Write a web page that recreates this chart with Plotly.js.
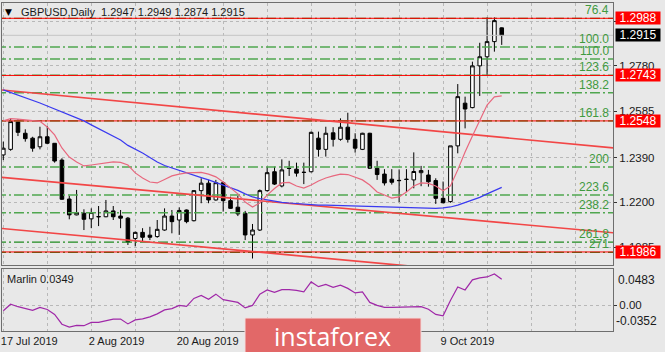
<!DOCTYPE html>
<html>
<head>
<meta charset="utf-8">
<script src="https://cdn.plot.ly/plotly-3.0.1.min.js"></script>
<style>html,body{margin:0;padding:0;background:#e8e8e8;}#chart{width:665px;height:352px;}</style>
</head>
<body>
<div id="chart"></div>
<script>
// ---------- DATA ----------
const dates = ["17 Jul 2019","18 Jul 2019","19 Jul 2019","22 Jul 2019","23 Jul 2019","24 Jul 2019","25 Jul 2019","26 Jul 2019","29 Jul 2019","30 Jul 2019","31 Jul 2019",
"1 Aug 2019","2 Aug 2019","5 Aug 2019","6 Aug 2019","7 Aug 2019","8 Aug 2019","9 Aug 2019","12 Aug 2019","13 Aug 2019","14 Aug 2019","15 Aug 2019","16 Aug 2019","19 Aug 2019","20 Aug 2019","21 Aug 2019","22 Aug 2019","23 Aug 2019","26 Aug 2019","27 Aug 2019","28 Aug 2019","29 Aug 2019","30 Aug 2019",
"2 Sep 2019","3 Sep 2019","4 Sep 2019","5 Sep 2019","6 Sep 2019","9 Sep 2019","10 Sep 2019","11 Sep 2019","12 Sep 2019","13 Sep 2019","16 Sep 2019","17 Sep 2019","18 Sep 2019","19 Sep 2019","20 Sep 2019","23 Sep 2019","24 Sep 2019","25 Sep 2019","26 Sep 2019","27 Sep 2019","30 Sep 2019",
"1 Oct 2019","2 Oct 2019","3 Oct 2019","4 Oct 2019","7 Oct 2019","8 Oct 2019","9 Oct 2019","10 Oct 2019","11 Oct 2019","14 Oct 2019","15 Oct 2019","16 Oct 2019","17 Oct 2019","18 Oct 2019","21 Oct 2019"];
// date labels visible below the indicator panel (the others are hidden by the logo)
const labelDates = ["17 Jul 2019","2 Aug 2019","20 Aug 2019","9 Oct 2019"];

const open  = [1.2402,1.2426,1.2545,1.2495,1.2474,1.2437,1.2480,1.2452,1.2380,1.2213,1.2145,1.2152,1.2128,1.2138,1.2137,1.2162,1.2140,1.2131,1.2044,1.2070,1.2058,1.2052,1.2080,1.2140,1.2123,1.2166,1.2120,1.2249,1.2281,1.2209,1.2283,1.2206,1.2178,1.2152,1.2059,1.2080,1.2249,1.2330,1.2269,1.2345,1.2341,1.2328,1.2330,1.2474,1.2426,1.2497,1.2469,1.2521,1.2469,1.2426,1.2495,1.2345,1.2320,1.2298,1.2293,1.2298,1.2295,1.2326,1.2316,1.2292,1.2216,1.2202,1.2441,1.2624,1.2605,1.2784,1.2823,1.2888,1.2947];
const high  = [1.2459,1.2559,1.2555,1.2512,1.2480,1.2523,1.2526,1.2453,1.2388,1.2227,1.2252,1.2169,1.2173,1.2183,1.2209,1.2183,1.2166,1.2136,1.2073,1.2088,1.2094,1.2123,1.2173,1.2166,1.2177,1.2168,1.2250,1.2302,1.2295,1.2295,1.2288,1.2223,1.2226,1.2162,1.2106,1.2254,1.2352,1.2352,1.2383,1.2377,1.2369,1.2369,1.2502,1.2502,1.2523,1.2521,1.2559,1.2583,1.2495,1.2497,1.2497,1.2377,1.2341,1.2341,1.2340,1.2341,1.2413,1.2355,1.2338,1.2302,1.2288,1.2441,1.2706,1.2652,1.2802,1.2883,1.2992,1.2992,1.2949];
const low   = [1.2380,1.2420,1.2483,1.2459,1.2416,1.2426,1.2448,1.2369,1.2209,1.2126,1.2143,1.2080,1.2088,1.2097,1.2135,1.2123,1.2088,1.2016,1.2010,1.2030,1.2037,1.2047,1.2077,1.2066,1.2059,1.2109,1.2117,1.2195,1.2195,1.2206,1.2159,1.2171,1.2140,1.2037,1.1958,1.2076,1.2245,1.2273,1.2263,1.2312,1.2309,1.2277,1.2327,1.2395,1.2395,1.2438,1.2463,1.2455,1.2412,1.2423,1.2342,1.2295,1.2271,1.2275,1.2200,1.2243,1.2259,1.2268,1.2266,1.2192,1.2195,1.2197,1.2409,1.2516,1.2602,1.2655,1.2745,1.2845,1.2874];
const close = [1.2431,1.2545,1.2499,1.2472,1.2431,1.2480,1.2452,1.2376,1.2212,1.2145,1.2155,1.2126,1.2155,1.2137,1.2162,1.2137,1.2131,1.2029,1.2070,1.2049,1.2049,1.2083,1.2140,1.2116,1.2164,1.2116,1.2249,1.2281,1.2209,1.2283,1.2206,1.2173,1.2149,1.2059,1.2080,1.2249,1.2326,1.2277,1.2338,1.2344,1.2324,1.2327,1.2499,1.2426,1.2495,1.2469,1.2521,1.2469,1.2431,1.2495,1.2345,1.2318,1.2282,1.2285,1.2292,1.2297,1.2331,1.2335,1.2287,1.2216,1.2197,1.2441,1.2652,1.2599,1.2784,1.2823,1.2888,1.2978,1.2915];

const maFast = [1.2548,1.2558,1.2556,1.2552,1.2548,1.2546,1.2522,1.2488,1.2432,1.2393,1.2372,1.2355,1.2359,1.2363,1.2368,1.2372,1.2370,1.2359,1.2325,1.2303,1.2286,1.2282,1.2297,1.2312,1.2320,1.2325,1.2326,1.2327,1.2320,1.2308,1.2286,1.2260,1.2235,1.2200,1.2179,1.2196,1.2230,1.2258,1.2282,1.2284,1.2269,1.2260,1.2273,1.2290,1.2303,1.2312,1.2320,1.2318,1.2308,1.2295,1.2273,1.2243,1.2230,1.2217,1.2222,1.2243,1.2269,1.2282,1.2280,1.2269,1.2248,1.2269,1.2338,1.2415,1.2483,1.2552,1.2616,1.2651,1.2655];
const maSlow = [1.2681,1.2670,1.2659,1.2648,1.2638,1.2625,1.2612,1.2599,1.2586,1.2573,1.2561,1.2548,1.2531,1.2515,1.2498,1.2482,1.2466,1.2443,1.2428,1.2410,1.2391,1.2372,1.2357,1.2346,1.2335,1.2327,1.2316,1.2305,1.2295,1.2284,1.2275,1.2263,1.2250,1.2235,1.2222,1.2215,1.2209,1.2205,1.2199,1.2196,1.2193,1.2191,1.2189,1.2187,1.2187,1.2186,1.2185,1.2185,1.2185,1.2184,1.2184,1.2183,1.2182,1.2181,1.2180,1.2178,1.2177,1.2176,1.2175,1.2173,1.2175,1.2179,1.2187,1.2198,1.2209,1.2220,1.2235,1.2250,1.2263];
const marlin = [-0.0078,0.0011,-0.0023,-0.0053,-0.0073,-0.0032,-0.0060,-0.0127,-0.0260,-0.0300,-0.0276,-0.0280,-0.0235,-0.0235,-0.0208,-0.0191,-0.0191,-0.0256,-0.0202,-0.0188,-0.0161,-0.0120,-0.0066,-0.0049,-0.0005,-0.0019,0.0089,0.0130,0.0078,0.0147,0.0072,0.0055,0.0035,-0.0039,-0.0005,0.0147,0.0204,0.0171,0.0207,0.0207,0.0198,0.0177,0.0313,0.0248,0.0279,0.0238,0.0268,0.0225,0.0164,0.0177,0.0035,-0.0005,-0.0032,-0.0032,-0.0032,-0.0030,-0.0026,-0.0023,-0.0057,-0.0127,-0.0145,0.0062,0.0245,0.0204,0.0340,0.0367,0.0380,0.0421,0.0349];

const fibLevels = [1.2988,1.2865,1.28135,1.2744,1.26685,1.2548,1.23503,1.22303,1.2154,1.20279,1.19846];
const fibLabels = ["76.4","100.0","110.0","123.6","138.2","161.8","200","223.6","238.2","261.8","271"];
const redLevels = [1.2988,1.2743,1.2548,1.1986];
// trend lines: [start bar, start price, end bar, end price]
const trendA = [-1, 1.2683, 84, 1.24295];
const trendB = [-1, 1.2308, 84, 1.2066];
const trendC = [-1, 1.2089, 84, 1.1843];
const priceTickVals = [1.2975,1.2785,1.2590,1.2390,1.2200,1.2007];
const priceTickText = ["","1.2780","1.2585","1.2390","1.2200","1.1985"];
const marlinTop = 0.0483, marlinBottom = -0.0352;

// ---------- BUILD ----------
const idx = dates.map((d,i)=>i);
const last = idx.length-1;
const XL = -1, XR = 84;
const FONT = "Liberation Sans, Arial, sans-serif";
const traces = [];

fibLevels.forEach((v,k)=>{
  const dark = (k===0 || k>=9);
  traces.push({type:'scatter',mode:'lines',x:[XL,XR],y:[v,v],xaxis:'x',yaxis:'y',hoverinfo:'skip',
    line:{color: k===0 ? '#4a6a1a' : (dark ? '#1f8a1f' : '#4fa64f'), width: dark?1.2:1.6, dash:'10px,3px,2px,3px'}});
});
traces.push({type:'scatter',mode:'lines',x:[XL,XR],y:[close[last],close[last]],xaxis:'x',yaxis:'y',hoverinfo:'skip',
  line:{color:'#c4c4c4',width:1}});
redLevels.forEach(v=>{
  traces.push({type:'scatter',mode:'lines',x:[XL,XR],y:[v,v],xaxis:'x',yaxis:'y',hoverinfo:'skip',
    line:{color:'#ff0000',width:1}});
});
[trendA,trendB,trendC].forEach(t=>{
  traces.push({type:'scatter',mode:'lines',x:[t[0],t[2]],y:[t[1],t[3]],xaxis:'x',yaxis:'y',hoverinfo:'skip',
    line:{color:'#f24646',width:1.7}});
});
traces.push({type:'scatter',mode:'lines',x:idx,y:maSlow,xaxis:'x',yaxis:'y',line:{color:'#3a3af0',width:1.2}});
traces.push({type:'scatter',mode:'lines',x:idx,y:maFast,xaxis:'x',yaxis:'y',line:{color:'#e8687e',width:1.2}});
traces.push({type:'candlestick',x:idx,open:open,high:high,low:low,close:close,xaxis:'x',yaxis:'y',
  whiskerwidth:0,
  increasing:{line:{color:'#000000',width:1},fillcolor:'#ffffff'},
  decreasing:{line:{color:'#000000',width:1},fillcolor:'#000000'}});
traces.push({type:'scatter',mode:'lines',x:idx,y:marlin,xaxis:'x2',yaxis:'y2',line:{color:'#a028a8',width:1.2}});

const gridTicks = []; for(let i=0;i<=78;i+=6) gridTicks.push(i);
const gridText = gridTicks.map(i => (i<dates.length && labelDates.indexOf(dates[i])>=0) ? dates[i] : '');

const annotations = [];
fibLevels.forEach((v,k)=>{
  annotations.push({xref:'paper',yref:'y',x:0.9975,y:v,xanchor:'right',yanchor:'bottom',showarrow:false,
    text:fibLabels[k],font:{family:FONT,size:12,color:'#3f9a3f'},yshift:-1});
});
redLevels.forEach(v=>{
  annotations.push({xref:'paper',yref:'y',x:1,y:v,xanchor:'left',yanchor:'middle',showarrow:false,xshift:2,
    text:v.toFixed(4),bgcolor:'#ff0000',font:{family:FONT,size:12,color:'#ffffff'},width:44,height:12,borderpad:0});
});
annotations.push({xref:'paper',yref:'y',x:1,y:close[last],xanchor:'left',yanchor:'middle',showarrow:false,xshift:2,
  text:close[last].toFixed(4),bgcolor:'#000000',font:{family:FONT,size:12,color:'#ffffff'},width:44,height:12,borderpad:0});
annotations.push({xref:'paper',yref:'paper',x:0.0105,y:0.9735,xanchor:'center',yanchor:'middle',showarrow:false,
  text:'▼',font:{family:'DejaVu Sans',size:9,color:'#000'}});
annotations.push({xref:'paper',yref:'paper',x:0.0275,y:0.9735,xanchor:'left',yanchor:'middle',showarrow:false,
  text:'GBPUSD,Daily  '+open[last].toFixed(4)+' '+high[last].toFixed(4)+' '+low[last].toFixed(4)+' '+close[last].toFixed(4),
  font:{family:FONT,size:11,color:'#1a1a1a'}});
annotations.push({xref:'paper',yref:'paper',x:0.005,y:0.16,xanchor:'left',yanchor:'middle',showarrow:false,
  text:'Marlin '+marlin[last].toFixed(4),font:{family:FONT,size:11,color:'#1a1a1a'}});
annotations.push({xref:'paper',yref:'y2',x:1,y:marlinTop,xanchor:'left',yanchor:'top',showarrow:false,xshift:3,yshift:-2,
  text:marlinTop.toFixed(4),font:{family:FONT,size:12,color:'#1a1a1a'}});
annotations.push({xref:'paper',yref:'y2',x:1,y:marlinBottom,xanchor:'left',yanchor:'bottom',showarrow:false,xshift:1,yshift:1,
  text:marlinBottom.toFixed(4),font:{family:FONT,size:12,color:'#1a1a1a'}});
annotations.push({xref:'paper',yref:'paper',x:0.5417,y:-0.015,xanchor:'center',yanchor:'middle',showarrow:false,
  text:'instaforex',font:{family:'Open Sans, Liberation Sans, sans-serif',size:25,color:'#ffffff'}});

const axBase = {showline:true,mirror:true,linecolor:'#6e6e6e',linewidth:1,zeroline:false,fixedrange:true,
  showgrid:true,gridcolor:'#b8b8b8',griddash:'3px,3px',gridwidth:1};

const layout = {
  width:665,height:352,
  margin:{l:2,r:52,t:3,b:21},
  paper_bgcolor:'#e8e8e8',plot_bgcolor:'#e8e8e8',
  showlegend:false,
  font:{family:FONT,size:12,color:'#1a1a1a'},
  xaxis:Object.assign({},axBase,{anchor:'y',domain:[0,1],range:[-0.177,83.18],tickmode:'array',tickvals:gridTicks,
    showticklabels:false,ticks:'',rangeslider:{visible:false}}),
  yaxis:Object.assign({},axBase,{anchor:'x',domain:[0.2003,1],range:[1.19288,1.30536],side:'right',
    tickmode:'array',tickvals:priceTickVals,ticktext:priceTickText,ticks:'outside',ticklen:3,tickcolor:'#333',
    tickfont:{family:FONT,size:11.5,color:'#1a1a1a'}}),
  xaxis2:Object.assign({},axBase,{anchor:'y2',domain:[0,1],range:[-0.177,83.18],tickmode:'array',tickvals:gridTicks,
    ticktext:gridText,ticks:'',ticklabelposition:'outside right',ticklabelshift:-3,
    tickfont:{family:FONT,size:11,color:'#1a1a1a'}}),
  yaxis2:Object.assign({},axBase,{anchor:'x2',domain:[0,0.188],range:[marlinBottom,marlinTop],side:'right',
    tickmode:'array',tickvals:[0],ticktext:['0.00'],ticks:'outside',ticklen:3,tickcolor:'#333',
    tickfont:{family:FONT,size:11.5,color:'#1a1a1a'}}),
  shapes:[{type:'rect',xref:'paper',yref:'paper',x0:0.3977,x1:0.6858,y0:-0.07,y1:0.0396,
    fillcolor:'#e26868',line:{color:'#f3dede',width:1},layer:'above'}],
  annotations:annotations
};

Plotly.newPlot('chart',traces,layout,{staticPlot:true,displayModeBar:false});
</script>
</body>
</html>
